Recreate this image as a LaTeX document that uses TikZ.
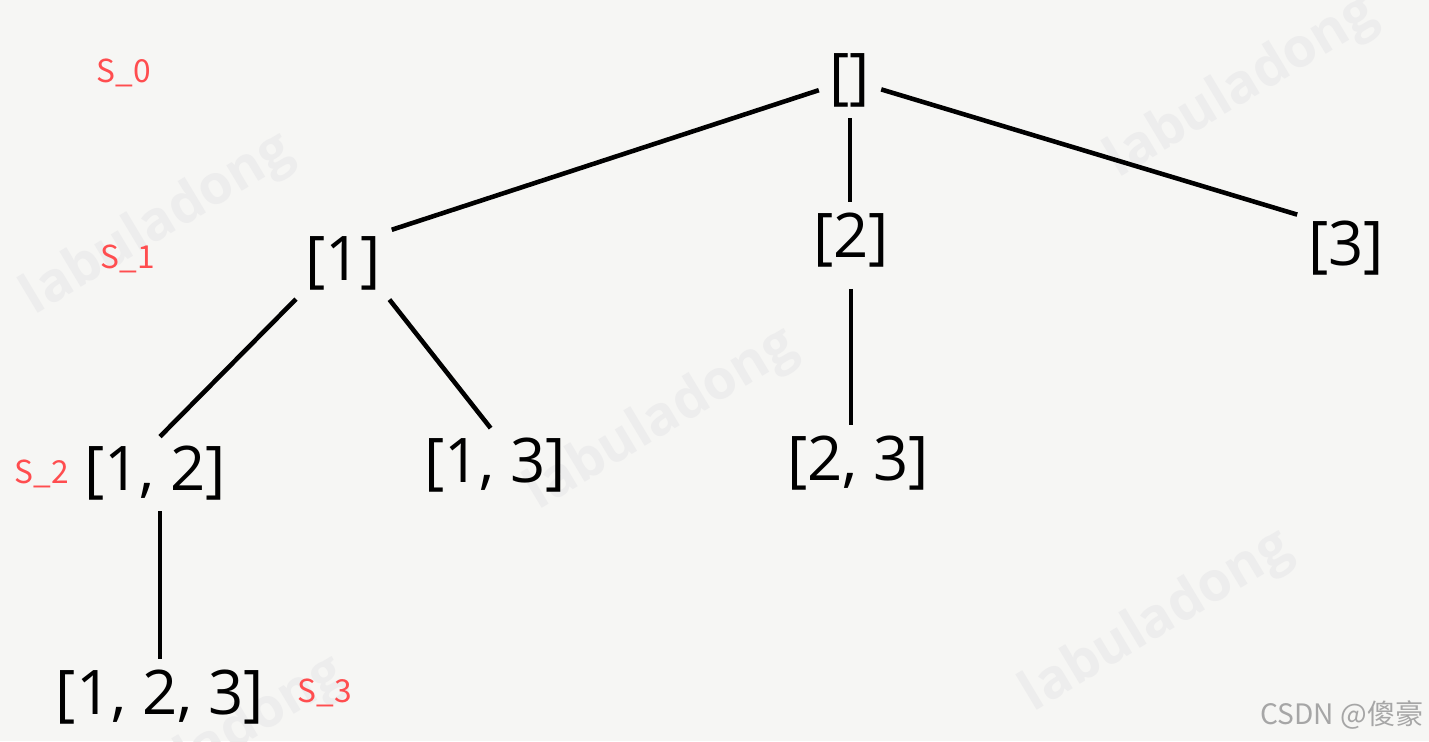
\documentclass[tikz,border=0pt]{standalone}
\usepackage{fontspec}
\setmainfont{Open Sans}
\newfontfamily\cjk{Noto Sans CJK SC}

\definecolor{lvred}{HTML}{FF4D4F}
\definecolor{paper}{HTML}{F6F6F4}

\tikzset{
  sub/.style={font=\fontsize{17.5}{21}\selectfont, inner sep=1pt},
  lvl/.style={font=\cjk\fontsize{9}{11}\selectfont, text=lvred, inner sep=0pt},
  edge/.style={line width=1.3pt, shorten <=2pt, shorten >=2pt},
  wmark/.style={font=\bfseries\fontsize{15.5}{19}\selectfont, text=black!7, rotate=31, inner sep=0pt}
}

\begin{document}
\begin{tikzpicture}[x=0.01cm, y=-0.01cm]

    \fill[paper] (0,0) rectangle (1429,741);
    \useasboundingbox (0,0) rectangle (1429,741);

    % watermark
    \foreach \x/\y [count=\k] in {158/225, 662/420, 1242/88, 1157/622, 210/748}
    \node[wmark] (wm\k) at (\x,\y) {labuladong};

    \node[sub] (root) at (850,80)  {[]};
    \node[sub] (n1)   at (343,263) {[1]};
    \node[sub] (n2)   at (851,240) {[2]};
    \node[sub] (n3)   at (1346,248) {[3]};
    \node[sub] (n12)  at (155,473) {[1, 2]};
    \node[sub] (n13)  at (495,465) {[1, 3]};
    \node[sub] (n23)  at (858,463) {[2, 3]};
    \node[sub] (n123) at (160,697) {[1, 2, 3]};

    \draw[edge] (root) -- (n1.north east);
    \draw[edge] (root) -- (root |- n2.north);
    \draw[edge] (root) -- (n3.north west);
    \draw[edge] (n1.south west) -- (n12.north);
    \draw[edge] (n1.south east) -- (n13.north);
    \draw[edge, shorten <=5pt] (n2) -- (n2 |- n23.north);
    \draw[edge] (n12.south -| n123) -- (n123);

    \node[lvl] (s0) at (124,73)  {S\_0};
    \node[lvl] (s1) at (128,259) {S\_1};
    \node[lvl] (s2) at (42,474)  {S\_2};
    \node[lvl] (s3) at (325,693) {S\_3};

    \node[font=\cjk\fontsize{8}{10}\selectfont, text=black!35, anchor=east, inner sep=0pt] (csdn) at (1424,715) {CSDN @傻豪};

\end{tikzpicture}
\end{document}
